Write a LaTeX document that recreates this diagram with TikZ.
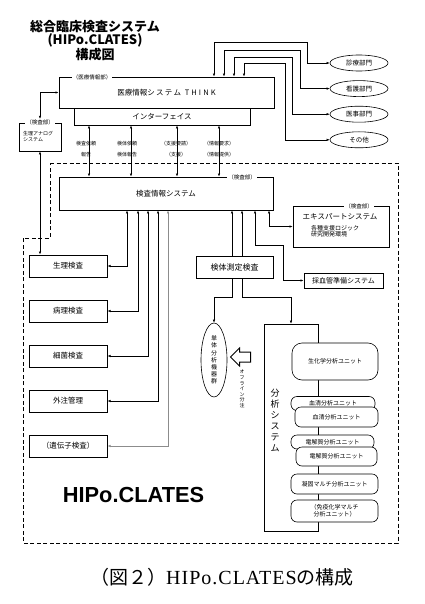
\documentclass[tikz,border=0pt]{standalone}
\usepackage{fontspec}
\setmainfont{Noto Sans CJK JP}
\newfontfamily\headsans{Liberation Sans}
\newfontfamily\capserif{Liberation Serif}[LetterSpace=5]
\usetikzlibrary{positioning, shapes.geometric, shapes.arrows, arrows.meta}
\definecolor{linegray}{RGB}{140, 140, 140}
\tikzset{
  sysbox/.style={draw, line width=0.9pt, inner sep=0pt, font=\fontsize{7.5}{8}\selectfont},
  dbox/.style={draw, line width=1pt, fill=white,
               minimum width=78pt, minimum height=22pt, inner sep=0pt,
               font=\fontsize{7.5}{8}\selectfont,
               append after command={\pgfextra{\draw[line width=0.45pt]
                 ([shift={(2pt,-2pt)}]\tikzlastnode.north west) rectangle
                 ([shift={(-2pt,2pt)}]\tikzlastnode.south east);}}},
  dept/.style={draw, ellipse, line width=0.6pt, minimum width=58pt, minimum height=16pt,
               inner sep=0pt, font=\fontsize{6.5}{7}\selectfont},
  unitbox/.style={draw, rounded corners=6pt, fill=white, line width=0.6pt, inner sep=0pt,
                  font=\fontsize{6}{7}\selectfont},
  bordertag/.style={fill=white, inner sep=1pt, font=\fontsize{5.5}{6}\selectfont},
  flowtag/.style={inner sep=0pt, font=\fontsize{5}{11}\selectfont, align=center},
  vtext/.style={align=center, inner sep=0pt},
  biarrow/.style={{Latex[length=3pt,width=2.4pt]}-{Latex[length=3pt,width=2.4pt]}, line width=0.5pt},
  oneway/.style={-{Latex[length=3pt,width=2.4pt]}, line width=0.5pt},
}

\begin{document}
\begin{tikzpicture}[x=1pt, y=-1pt]
  \useasboundingbox (0,0) rectangle (424,604);

  \node[font=\bfseries\fontsize{13}{13}\selectfont, align=center] (title) at (95,41)
    {総合臨床検査システム\\(HIPo.CLATES)\\構成図};

  \node[sysbox, minimum width=215, minimum height=31] (think) at (166.5,92.5)
    {医療情報シ\,ス\,テ\,ム\enspace T\;H\;I\;N\;K};
  \node[bordertag] (thinktag) at (92,77) {（医療情報部）};
  \node[sysbox, minimum width=176, minimum height=17] (iface) at (162,116.5) {インターフェイス};

  \node[dept] (shin) at (359,63) {診療部門};
  \node[dept, below=9pt of shin] (kango) {看護部門};
  \node[dept, below=9pt of kango] (iji) {医事部門};
  \node[dept, below=9pt of iji] (sonota) {その他};
  \foreach \x/\y/\k/\e in {214/42/307/shin, 224/50/300/kango, 234/57/292/iji, 244/63/285/sonota}
    \draw[biarrow] (think.north -| \x,0) |- (\k,\y) |- (\e.west);

  \node[draw, line width=0.7pt, minimum width=42, minimum height=28, inner sep=0pt] (analog) at (40,137) {};
  \node[bordertag] (analogtag) at (analog.north) {（検査部）};
  \node[font=\fontsize{5}{6}\selectfont, align=left, anchor=west, inner sep=0pt] (analogtxt) at (23,137)
    {生理アナログ\\システム};
  \draw[biarrow] (analogtag.north) |- (think.west);

  \draw[dashed, line width=0.8pt, dash pattern=on 4pt off 2.5pt]
    (50,163) -- (398,163) -- (398,543) -- (23,543) -- (23,238) -- (50,238) -- cycle;

  \node[sysbox, minimum width=214, minimum height=33] (kensa) at (166,193.5) {検査情報システム};
  \node[bordertag] (kensatag) at (242,177) {（検査部）};
  \foreach \x in {89,131,177,219}
    \draw[biarrow] (iface.south -| \x,0) -- (kensa.north -| \x,0);
  \node[flowtag] (req1) at (86,149.5) {検査依頼\\報告};
  \node[flowtag] (req2) at (127,149.5) {検体依頼\\検体報告};
  \node[flowtag] (req3) at (176,149.5) {（支援要請）\\（支援）};
  \node[flowtag] (req4) at (219,149.5) {（情報要求）\\（情報提供）};

  \node[dbox] (seiri) at (68,266) {生理検査};
  \node[dbox, below=22pt of seiri] (byori) {病理検査};
  \node[dbox, below=22pt of byori] (saikin) {細菌検査};
  \node[dbox, below=22pt of saikin] (gaichu) {外注管理};
  \node[dbox, below=22pt of gaichu] (idenshi) {（遺伝子検査）};
  \draw[biarrow] (analog.south) -- (analog.south |- seiri.north);
  \foreach \x/\n in {127/seiri, 138/byori, 148/saikin, 158/gaichu}
    \draw[biarrow] (kensa.south -| \x,0) |- (\n.east);
  \draw[biarrow, linegray] (kensa.south -| 168,0) |- (idenshi.east);

  \node[dbox, minimum width=77, font=\fontsize{8}{9}\selectfont] (kentai) at (234.5,267) {検体測定検査};
  \foreach \x in {232,242}
    \draw[oneway] (kentai.north -| \x,0) -- (kensa.south -| \x,0);

  \node[draw, ellipse, line width=0.6pt, minimum width=26, minimum height=74, inner sep=0pt,
        vtext, font=\fontsize{6}{7.2}\selectfont] (tanki) at (214,360) {単\\体\\分\\析\\機\\器\\群};
  \node[draw, line width=0.6pt, minimum width=54, minimum height=207, inner sep=0pt] (bunseki) at (291,427.5) {};
  \node[vtext, font=\fontsize{9}{11}\selectfont] (bunlabel) at (275,420) {分\\析\\シ\\ス\\テ\\ム};
  \draw[oneway] (kentai.south -| 232,0) -- ++(0,19) -| (tanki.north);
  \draw[oneway] (kentai.south -| 242,0) -- ++(0,19) -| (bunseki.north);

  \node[single arrow, draw, line width=1pt, shape border rotate=180, inner sep=4.5pt,
        single arrow head extend=4pt, minimum height=20pt] (offarrow) at (243,357) {};
  \node[vtext, font=\fontsize{5}{5.6}\selectfont] (offlabel) at (242,389) {オ\\フ\\ラ\\イ\\ン\\分\\注};

  \node[unitbox, rounded corners=10pt, minimum width=86, minimum height=37] (seika) at (335,361.5) {生化学分析ユニット};
  \node[unitbox, minimum width=84, minimum height=14] (kessei0) at (333,403.5) {血清分析ユニット};
  \node[unitbox, minimum width=83, minimum height=20] (kessei) at (336.5,417) {血清分析ユニット};
  \node[unitbox, minimum width=83, minimum height=14] (denkai0) at (332.5,442) {電解質分析ユニット};
  \node[unitbox, minimum width=81, minimum height=19] (denkai) at (336.5,456.5) {電解質分析ユニット};
  \node[unitbox, minimum width=87, minimum height=20] (gyoko) at (334.5,484) {凝固マルチ分析ユニット};
  \node[unitbox, minimum width=87, minimum height=22, align=center] (meneki) at (334.5,511)
    {（免疫化学マルチ\\分析ユニット）};

  \node[draw, line width=0.8pt, minimum width=96, minimum height=41, inner sep=0pt] (expert) at (341,226.5) {};
  \node[bordertag] (experttag) at (359,206) {（検査部）};
  \node[font=\fontsize{7.5}{8}\selectfont] (exptitle) at (340,217) {エキスパートシステム};
  \node[font=\fontsize{6}{6.5}\selectfont, align=left, anchor=west, inner sep=0pt] (expsub) at (311,231)
    {各種支援ロジック\\研究開発環境};
  \node[dbox, minimum width=79, minimum height=15, font=\fontsize{7}{8}\selectfont] (saiketsu) at (343.5,280.5)
    {採血管準備システム};
  \draw[biarrow] (kensa.south -| 269,0) |- (expert.west);
  \draw[biarrow] (kensa.south -| 255,0) |- ++(28,35) |- (saiketsu.west);

  \node[font=\headsans\bfseries\fontsize{21.8}{24}\selectfont] (hipo) at (133.5,494.5) {HIPo.CLATES};
  \node[font=\fontsize{19}{21}\selectfont] (caption) at (222,577)
    {（図２）{\capserif\fontsize{20}{21}\selectfont HIPo.CLATES}の構成};
\end{tikzpicture}
\end{document}
